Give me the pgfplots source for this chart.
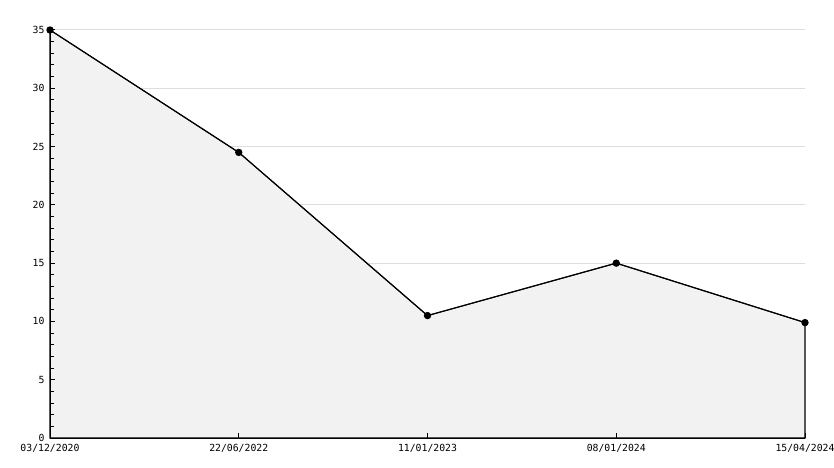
\documentclass[border=0pt]{standalone}
\usepackage{fontspec}
\setmainfont{DejaVu Sans Mono}
\setmonofont{DejaVu Sans Mono}
\usepackage{pgfplots}
\pgfplotsset{compat=1.18}
\definecolor{fillgray}{HTML}{F2F2F2}
\definecolor{gridgray}{HTML}{DDDDDD}
\begin{document}
\begin{tikzpicture}
\path[use as bounding box] (-50bp,-30bp) rectangle (784bp,438bp);
\begin{axis}[
  at={(0,0)}, anchor=origin,
  scale only axis, width=755bp, height=408bp,
  xmin=0, xmax=4, ymin=0, ymax=35,
  axis x line=bottom, axis y line=left,
  axis line style={-, line width=1bp, black},
  xtick={0,1,2,3,4},
  xticklabels={03/12/2020,22/06/2022,11/01/2023,08/01/2024,15/04/2024},
  ytick={0,5,...,35},
  minor y tick num=4,
  tick align=inside,
  major tick length=5bp, minor tick length=4bp,
  tick style={black, line width=1bp},
  /pgf/number format/assume math mode=true,
  tick label style={font=\fontsize{9.8bp}{11bp}\selectfont},
  yticklabel style={xshift=-2bp},
  xticklabel style={yshift=-3bp},
  clip=false,
  axis on top=true,
]
\pgfplotsinvokeforeach{5,10,15,20,25,30,35}{\draw[gridgray, line width=1bp] (axis cs:0,#1) -- (axis cs:4,#1);}
\addplot[fill=fillgray, draw=black, line width=1.2bp] coordinates {(0,35) (1,24.5) (2,10.5) (3,15) (4,9.9)} \closedcycle;
\addplot[black, line width=0.9bp, mark=*, mark size=3.2bp, mark options={fill=black}] coordinates {(0,35) (1,24.5) (2,10.5) (3,15) (4,9.9)};
\end{axis}
\end{tikzpicture}
\end{document}
